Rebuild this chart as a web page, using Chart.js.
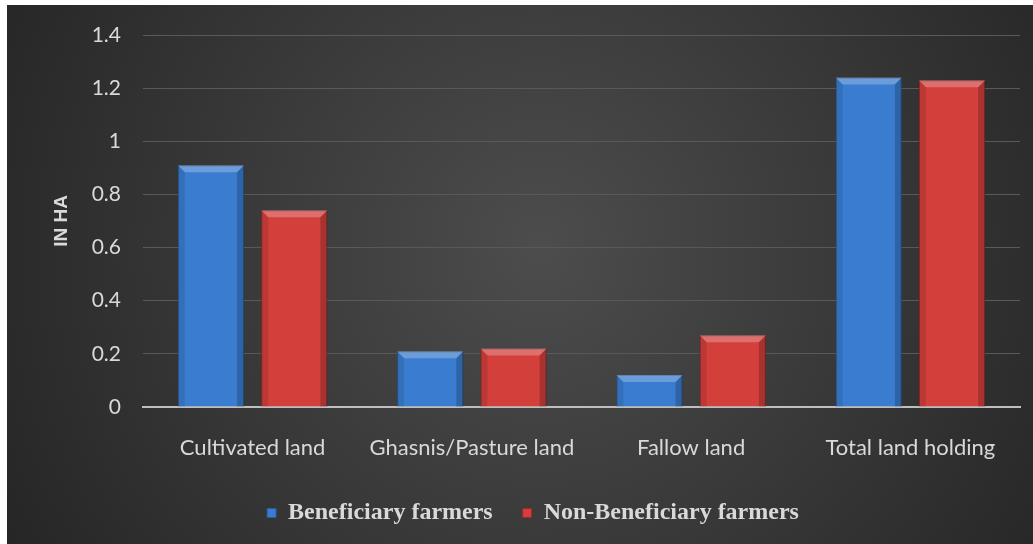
<!DOCTYPE html>
<html>
<head>
<meta charset="utf-8">
<script src="https://cdn.jsdelivr.net/npm/chart.js@4.4.0/dist/chart.umd.min.js"></script>
<style>
  body { margin: 0; background: #fff; }
  #wrap { position: absolute; left: 7px; top: 5px; width: 1026px; height: 539px; }
</style>
</head>
<body>
<div id="wrap"><canvas id="landChart"></canvas></div>
<script>
const categories = ['Cultivated land', 'Ghasnis/Pasture land', 'Fallow land', 'Total land holding'];
const beneficiary = [0.91, 0.21, 0.12, 1.24];
const nonBeneficiary = [0.74, 0.22, 0.27, 1.23];
const seriesNames = ['Beneficiary farmers', 'Non-Beneficiary farmers'];
const yTicks = [0, 0.2, 0.4, 0.6, 0.8, 1, 1.2, 1.4];

// dark radial background
const bgPlugin = {
    id: 'bg',
    beforeDraw(chart) {
        const c = chart.ctx;
        const w = chart.width, h = chart.height;
        const g = c.createRadialGradient(w * 0.52, h * 0.45, 10, w * 0.52, h * 0.45, w * 0.62);
        g.addColorStop(0, '#4c4c4c');
        g.addColorStop(1, '#242424');
        c.save();
        c.fillStyle = g;
        c.fillRect(0, 0, w, h);
        c.restore();
    }
};

// soft bevel on each bar, using the bar elements' own geometry
const bevelPlugin = {
    id: 'bevel',
    afterDatasetsDraw(chart) {
        const c = chart.ctx;
        const b = 7;
        chart.data.datasets.forEach((ds, i) => {
            chart.getDatasetMeta(i).data.forEach(bar => {
                const l = bar.x - bar.width / 2, r = bar.x + bar.width / 2;
                const t = bar.y, btm = bar.base;
                c.save();
                c.fillStyle = 'rgba(255,255,255,0.25)';
                c.beginPath();
                c.moveTo(l, t); c.lineTo(r, t); c.lineTo(r - b, t + b); c.lineTo(l + b, t + b);
                c.closePath(); c.fill();
                c.fillStyle = 'rgba(0,0,0,0.10)';
                c.beginPath();
                c.moveTo(l, t); c.lineTo(l + b, t + b); c.lineTo(l + b, btm); c.lineTo(l, btm);
                c.closePath(); c.fill();
                c.fillStyle = 'rgba(0,0,0,0.20)';
                c.beginPath();
                c.moveTo(r, t); c.lineTo(r - b, t + b); c.lineTo(r - b, btm); c.lineTo(r, btm);
                c.closePath(); c.fill();
                c.restore();
            });
        });
    }
};

new Chart(document.getElementById('landChart'), {
    type: 'bar',
    data: {
        labels: categories,
        datasets: [{
            label: seriesNames[0],
            data: beneficiary,
            backgroundColor: '#3a7ccf',
            borderColor: '#2a5b99',
            borderWidth: 1,
            categoryPercentage: 0.76,
            barPercentage: 0.795
        }, {
            label: seriesNames[1],
            data: nonBeneficiary,
            backgroundColor: '#d33f3b',
            borderColor: '#9a2a27',
            borderWidth: 1,
            categoryPercentage: 0.76,
            barPercentage: 0.795
        }]
    },
    options: {
        responsive: true,
        maintainAspectRatio: false,
        animation: false,
        layout: { padding: { left: 39, right: 13, top: 30, bottom: 9 } },
        scales: {
            y: {
                min: 0,
                max: 1.4,
                afterBuildTicks: axis => { axis.ticks = yTicks.map(v => ({ value: v })); },
                afterFit: axis => { axis.width = 97; axis.paddingTop = 0; },
                grid: { color: '#595959', lineWidth: 1, drawTicks: false },
                border: { display: false },
                ticks: {
                    color: '#d9d9d9',
                    padding: 22,
                    font: { family: 'Lato', size: 21 },
                    callback: v => String(Number(v.toFixed(1)))
                },
                title: {
                    display: true,
                    text: 'IN HA',
                    color: '#d9d9d9',
                    font: { family: 'Liberation Sans', size: 19, weight: 'bold' }
                }
            },
            x: {
                afterFit: axis => { axis.height = 64; },
                grid: { display: false, drawTicks: false },
                border: { color: '#bfbfbf', width: 2 },
                ticks: {
                    color: '#d9d9d9',
                    padding: 28,
                    font: { family: 'Lato', size: 22 }
                }
            }
        },
        plugins: {
            legend: {
                position: 'bottom',
                labels: {
                    color: '#d9d9d9',
                    boxWidth: 9,
                    boxHeight: 9,
                    padding: 30,
                    font: { family: 'Liberation Serif', size: 24, weight: 'bold' }
                }
            },
            tooltip: { enabled: false }
        }
    },
    plugins: [bgPlugin, bevelPlugin]
});
</script>
</body>
</html>
